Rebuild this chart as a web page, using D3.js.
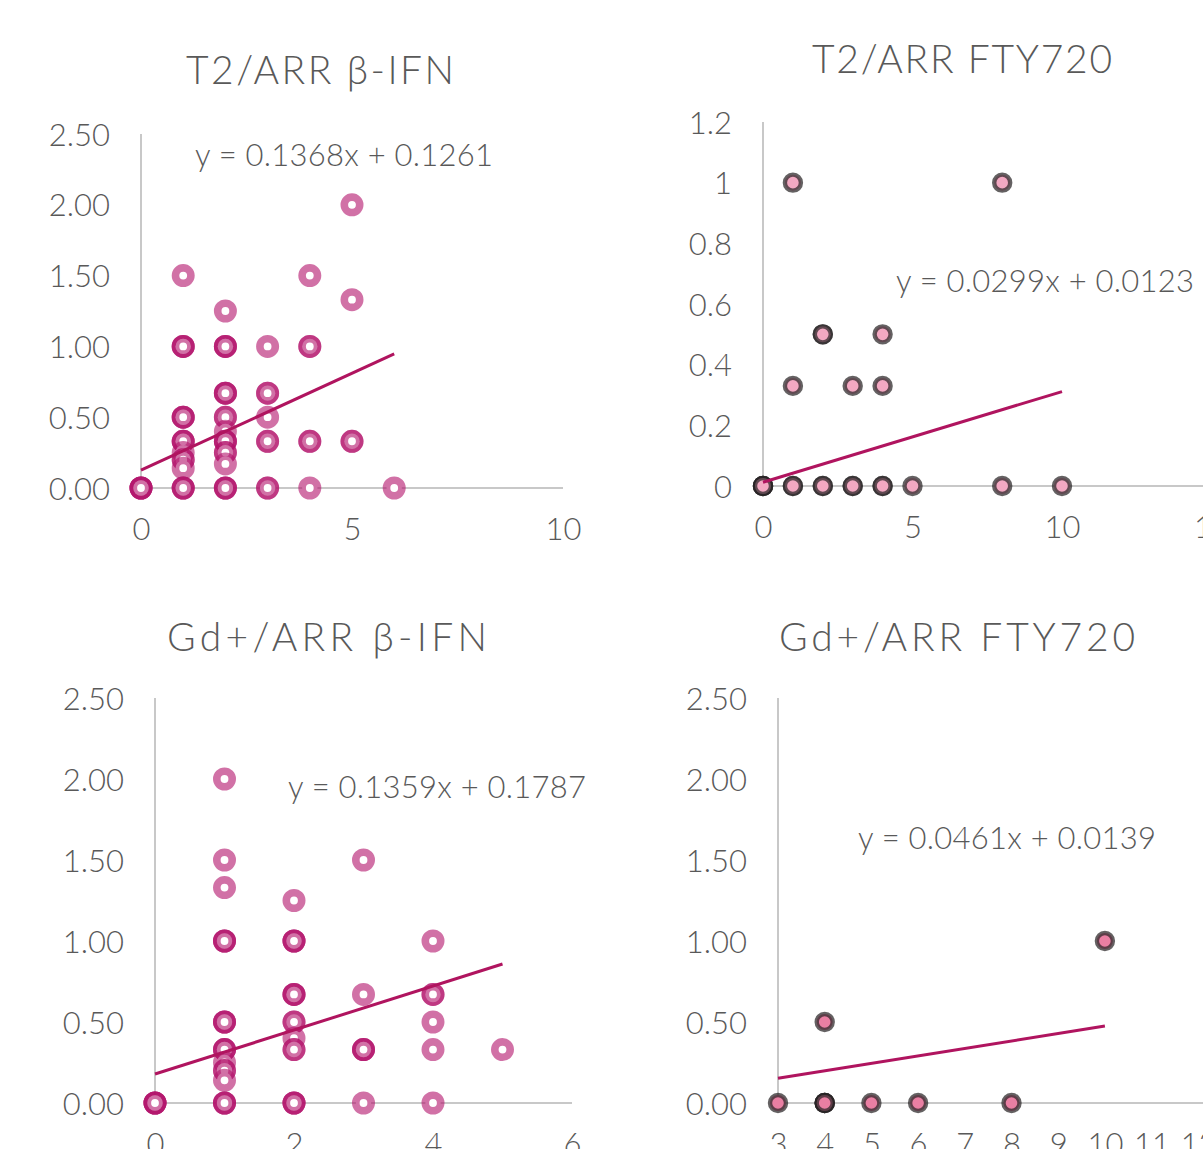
<!DOCTYPE html>
<html>
<head>
<meta charset="utf-8">
<script src="https://cdn.jsdelivr.net/npm/d3@7"></script>
<style>
  html, body { margin: 0; padding: 0; background: #ffffff; }
  svg { display: block; }
  text { font-family: "Lato", "Noto Sans", sans-serif; fill: #595959; font-weight: 300; }
</style>
</head>
<body>
<svg id="chart" width="1203" height="1149"></svg>
<script>
// ---------------- DATA ----------------
const titles = ["T2/ARR \u03B2-IFN", "T2/ARR FTY720", "Gd+/ARR \u03B2-IFN", "Gd+/ARR FTY720"];
const equations = ["y = 0.1368x + 0.1261", "y = 0.0299x + 0.0123", "y = 0.1359x + 0.1787", "y = 0.0461x + 0.0139"];
const slopes = [0.1368, 0.0299, 0.1359, 0.0461];
const intercepts = [0.1261, 0.0123, 0.1787, 0.0139];

// Panel 1: T2/ARR beta-IFN
const t2IfnX = [0,0,0,0,
  1,1,1, 1,1,1, 1, 1,1,1, 1,1,1, 1, 1,1, 1,
  2,2,2, 2,2,2, 2, 2,2,2, 2,2, 2, 2,2,2, 2,2, 2,
  3,3, 3, 3,3, 3, 3,3,
  4, 4, 4,4, 4,4,
  5, 5, 5,5,
  6];
const t2IfnY = [0,0,0,0,
  0,0,0, 1.00,1.00,1.00, 1.50, 0.50,0.50,0.50, 0.33,0.33,0.33, 0.25, 0.20,0.20, 0.14,
  0,0,0, 1.00,1.00,1.00, 1.25, 0.67,0.67,0.67, 0.50,0.50, 0.40, 0.33,0.33,0.33, 0.25,0.25, 0.17,
  0,0, 1.00, 0.67,0.67, 0.50, 0.33,0.33,
  0, 1.50, 1.00,1.00, 0.33,0.33,
  2.00, 1.33, 0.33,0.33,
  0];

// Panel 2: T2/ARR FTY720
const t2FtyX = [0,0,0,0, 1,1,1,1, 2,2,2,2, 3,3,3, 4,4,4,4, 5, 8,8, 10];
const t2FtyY = [0,0,0,0, 0,0,1,0.33, 0,0,0.5,0.5, 0,0,0.33, 0,0,0.5,0.33, 0, 0,1, 0];

// Panel 3: Gd+/ARR beta-IFN
const gdIfnX = [0,0,0,0,
  1,1,1, 1, 1, 1, 1,1,1, 1,1,1, 1,1,1, 1, 1,1, 1,
  2,2,2, 2, 2,2,2, 2,2,2, 2,2, 2, 2,2,
  3, 3, 3, 3,3,3,
  4, 4, 4,4, 4, 4,
  5];
const gdIfnY = [0,0,0,0,
  0,0,0, 2.00, 1.50, 1.33, 1.00,1.00,1.00, 0.50,0.50,0.50, 0.33,0.33,0.33, 0.25, 0.20,0.20, 0.14,
  0,0,0, 1.25, 1.00,1.00,1.00, 0.67,0.67,0.67, 0.50,0.50, 0.40, 0.33,0.33,
  0, 1.50, 0.67, 0.33,0.33,0.33,
  0, 1.00, 0.67,0.67, 0.50, 0.33,
  0.33];

// Panel 4: Gd+/ARR FTY720
const gdFtyX = [3, 4,4,4,4, 4, 5, 6, 8, 10];
const gdFtyY = [0, 0,0,0,0, 0.5, 0, 0, 0, 1];

// Tick values / labels
const xTicks1 = [0, 5, 10];
const xTicks2 = [0, 5, 10, 15];
const xTicks3 = [0, 2, 4, 6];
const xTicks4 = [3, 4, 5, 6, 7, 8, 9, 10, 11, 12, 13];
const yTicksA = [0, 0.5, 1.0, 1.5, 2.0, 2.5];
const yTicksB = [0, 0.2, 0.4, 0.6, 0.8, 1.0, 1.2];

// ---------------- LAYOUT / STYLE ----------------
const panels = [
  { xs: t2IfnX, ys: t2IfnY, xDom: [0, 10], xRange: [141, 563], yDom: [0, 2.5], yRange: [488, 134],
    xTicks: xTicks1, yTicks: yTicksA, yFmt: d3.format(".2f"), xAxisEnd: 10,
    title: { x: 320, y: 84, w: 268 }, eq: { x: 195, y: 166 }, style: "ifn" },
  { xs: t2FtyX, ys: t2FtyY, xDom: [0, 15], xRange: [763, 1211.5], yDom: [0, 1.2], yRange: [486, 122],
    xTicks: xTicks2, yTicks: yTicksB, yFmt: d3.format("~g"), xAxisEnd: 15,
    title: { x: 962, y: 73, w: 300 }, eq: { x: 896, y: 292 }, style: "fty1" },
  { xs: gdIfnX, ys: gdIfnY, xDom: [0, 6], xRange: [155, 572], yDom: [0, 2.5], yRange: [1103, 698],
    xTicks: xTicks3, yTicks: yTicksA, yFmt: d3.format(".2f"), xAxisEnd: 6,
    title: { x: 327, y: 651, w: 320 }, eq: { x: 288, y: 798 }, style: "ifn" },
  { xs: gdFtyX, ys: gdFtyY, xDom: [3, 13], xRange: [778, 1245], yDom: [0, 2.5], yRange: [1103, 698],
    xTicks: xTicks4, yTicks: yTicksA, yFmt: d3.format(".2f"), xAxisEnd: 13,
    title: { x: 957, y: 651, w: 356 }, eq: { x: 858, y: 849 }, style: "fty2" }
];

const markerStyles = {
  ifn:  { r: 7.7, sw: 7.6, fill: "#ffffff", stroke: "rgb(178,18,106)", so: 0.6 },
  fty1: { r: 8.0, sw: 4.4, fill: "#f3a8c2", stroke: "rgb(40,36,38)", so: 0.72 },
  fty2: { r: 8.0, sw: 4.4, fill: "#ea7fa3", stroke: "rgb(40,36,38)", so: 0.72 }
};

const svg = d3.select("#chart");
svg.append("rect").attr("width", 1203).attr("height", 1149).attr("fill", "#ffffff");

panels.forEach((p, i) => {
  const x = d3.scaleLinear().domain(p.xDom).range(p.xRange);
  const y = d3.scaleLinear().domain(p.yDom).range(p.yRange);
  const g = svg.append("g");

  // Title
  g.append("text")
    .attr("x", p.title.x).attr("y", p.title.y)
    .attr("text-anchor", "middle")
    .attr("font-size", 39)
    .attr("textLength", p.title.w)
    .attr("lengthAdjust", "spacing")
    .text(titles[i]);

  // y axis
  const yAxis = d3.axisLeft(y).tickValues(p.yTicks).tickFormat(p.yFmt).tickSize(0).tickPadding(31);
  const gy = g.append("g").attr("transform", `translate(${p.xRange[0]},0)`).call(yAxis);
  gy.select(".domain").remove();
  gy.selectAll("text").attr("font-size", 31).attr("fill", "#595959").attr("font-weight", 300)
    .attr("font-family", "Lato, 'Noto Sans', sans-serif").attr("dy", "0.36em");

  // x axis
  const xAxis = d3.axisBottom(x).tickValues(p.xTicks).tickFormat(d3.format("d")).tickSize(0).tickPadding(30);
  const gx = g.append("g").attr("transform", `translate(0,${p.yRange[0]})`).call(xAxis);
  gx.select(".domain").remove();
  gx.selectAll("text").attr("font-size", 31).attr("fill", "#595959").attr("font-weight", 300)
    .attr("font-family", "Lato, 'Noto Sans', sans-serif").attr("dy", "0.72em");

  // axis lines
  g.append("line")
    .attr("x1", x(p.xDom[0])).attr("x2", x(p.xDom[0]))
    .attr("y1", y(p.yDom[0])).attr("y2", y(p.yDom[1]))
    .attr("stroke", "#c8c8c8").attr("stroke-width", 2);
  g.append("line")
    .attr("x1", x(p.xDom[0])).attr("x2", x(p.xAxisEnd))
    .attr("y1", y(0)).attr("y2", y(0))
    .attr("stroke", "#c8c8c8").attr("stroke-width", 2);

  // markers
  const ms = markerStyles[p.style];
  const pts = p.xs.map((xv, k) => ({ x: xv, y: p.ys[k] }));
  g.append("g").selectAll("circle").data(pts).join("circle")
    .attr("cx", d => x(d.x)).attr("cy", d => y(d.y))
    .attr("r", ms.r)
    .attr("fill", ms.fill)
    .attr("stroke", ms.stroke).attr("stroke-opacity", ms.so)
    .attr("stroke-width", ms.sw);

  // trend line
  const ext = d3.extent(p.xs);
  g.append("line")
    .attr("x1", x(ext[0])).attr("y1", y(slopes[i] * ext[0] + intercepts[i]))
    .attr("x2", x(ext[1])).attr("y2", y(slopes[i] * ext[1] + intercepts[i]))
    .attr("stroke", "#b0145f").attr("stroke-width", 3);

  // equation
  g.append("text")
    .attr("x", p.eq.x).attr("y", p.eq.y)
    .attr("font-size", 31)
    .attr("textLength", 298)
    .attr("lengthAdjust", "spacing")
    .text(equations[i]);
});
</script>
</body>
</html>
